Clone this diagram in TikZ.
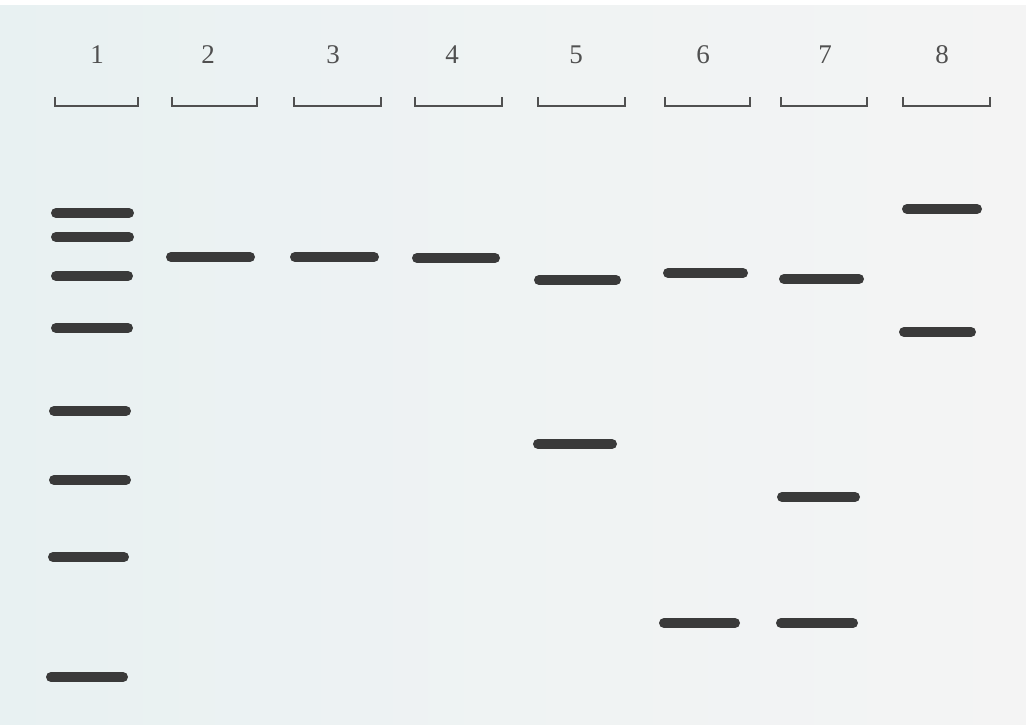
\documentclass[tikz,border=0pt]{standalone}
\usepackage{fontspec}
\setmainfont{Liberation Serif}
\definecolor{gelL}{HTML}{E8F1F2}
\definecolor{gelR}{HTML}{F4F4F4}
\definecolor{bandc}{HTML}{3A3A3A}
\definecolor{labc}{HTML}{505050}
\tikzset{
  band/.style={line width=10pt, line cap=round, draw=bandc},
  well/.style={line width=2pt, draw=labc},
  lanelab/.style={font=\fontsize{27}{30}\selectfont, text=labc, inner sep=0pt, anchor=center}
}
\begin{document}
\begin{tikzpicture}[x=1pt,y=-1pt]
\useasboundingbox (0,0) rectangle (1026,724);
\fill[white] (0,0) rectangle (1026,724);
\shade[left color=gelL, right color=gelR, middle color=gelR!60!gelL] (0,5) rectangle (1026,724);
% lane labels
\foreach \n/\x in {1/97,2/208,3/333,4/452,5/576,6/703,7/825,8/942}
  \node[lanelab] (lab\n) at (\x,55) {\n};
% wells
\foreach \a/\b in {55/138,172/257,294/381,415/502,538/625,665/750,781/867,903/990}
  \draw[well] (\a,97) -- (\a,106) -- (\b,106) -- (\b,97);
% lane 1 ladder
\foreach \y/\a/\b in {213/56/129,237/56/129,276/56/128,328/56/128,411/54/126,480/54/126,557/53/124,677/51/123}
  \draw[band] (\a,\y) -- (\b,\y);
% lane 2-4
\draw[band] (171,257) -- (250,257);
\draw[band] (295,257) -- (374,257);
\draw[band] (417,258) -- (495,258);
% lane 5
\draw[band] (539,280) -- (616,280);
\draw[band] (538,444) -- (612,444);
% lane 6
\draw[band] (668,273) -- (743,273);
\draw[band] (664,623) -- (735,623);
% lane 7
\draw[band] (784,279) -- (859,279);
\draw[band] (782,497) -- (855,497);
\draw[band] (781,623) -- (853,623);
% lane 8
\draw[band] (907,209) -- (977,209);
\draw[band] (904,332) -- (971,332);
\end{tikzpicture}
\end{document}
